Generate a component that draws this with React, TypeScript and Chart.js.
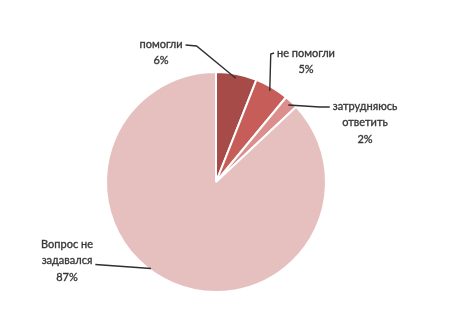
import { useEffect, useRef } from "react";
import { Chart, registerables } from "chart.js";

Chart.register(...registerables);

const categories = ["помогли", "не помогли", "затрудняюсь ответить", "Вопрос не задавался"];
const labelTextLines = [["помогли"], ["не помогли"], ["затрудняюсь", "ответить"], ["Вопрос не", "задавался"]];
const values = [6, 5, 2, 87];
const colors = ["#A64B48", "#C75D58", "#DB8E8B", "#E6C0BF"];

// label placement (pixels relative to pie centre) and leader style
const LABEL_LAYOUT = [
  { dx: -55, dy: -138, kind: "rightElbow" },
  { dx: 90, dy: -129, kind: "leftVertical" },
  { dx: 149, dy: -76, kind: "leftElbow" },
  { dx: -149, dy: 62, kind: "rightHorizontal" },
];

const FONT = '11px Lato, "DejaVu Sans", sans-serif';
const LINE_H = 16.5;

const labelPlugin = {
  id: "outerLabels",
  afterDraw(chart: any) {
    const ctx = chart.ctx;
    const meta = chart.getDatasetMeta(0);
    ctx.save();
    ctx.font = FONT;
    ctx.textAlign = "center";
    ctx.textBaseline = "middle";
    meta.data.forEach((arc: any, i: number) => {
      const p = arc.getProps(["x", "y", "startAngle", "endAngle", "outerRadius"], true);
      const mid = (p.startAngle + p.endAngle) / 2;
      const ax = p.x + Math.cos(mid) * p.outerRadius * 0.96;
      const ay = p.y + Math.sin(mid) * p.outerRadius * 0.96;
      const lay = LABEL_LAYOUT[i];
      const lines = [...labelTextLines[i], values[i] + "%"];
      const cx = p.x + lay.dx;
      const cy = p.y + lay.dy;
      ctx.fillStyle = "#383838";
      ctx.strokeStyle = "#383838";
      ctx.lineWidth = 0.35;
      lines.forEach((t, k) => {
        ctx.fillText(t, cx, cy + k * LINE_H);
        ctx.strokeText(t, cx, cy + k * LINE_H);
      });
      const w0 = ctx.measureText(lines[0]).width;
      const pts: number[][] = [];
      if (lay.kind === "rightElbow") {
        const r = cx + w0 / 2 + 3;
        pts.push([r, cy + 1], [r + 11, cy + 2], [ax, ay]);
      } else if (lay.kind === "leftVertical") {
        const l = cx - w0 / 2 - 3;
        pts.push([l, cy], [ax + 1, cy + 1], [ax, ay]);
      } else if (lay.kind === "leftElbow") {
        const l = cx - w0 / 2 - 3;
        pts.push([l, cy + 1], [l - 10, cy + 1], [ax, ay]);
      } else {
        const w1 = ctx.measureText(lines[1]).width;
        const r = cx + w1 / 2 + 3;
        const ly = cy + LINE_H + 4;
        const ey = ly + 4;
        const ddy = ey - p.y;
        const ex = p.x - Math.sqrt(Math.max(p.outerRadius * p.outerRadius - ddy * ddy, 0)) + 3;
        pts.push([r, ly], [ex, ey]);
      }
      ctx.strokeStyle = "#2f2f2f";
      ctx.lineWidth = 1.4;
      ctx.beginPath();
      pts.forEach((q, k) => (k === 0 ? ctx.moveTo(q[0], q[1]) : ctx.lineTo(q[0], q[1])));
      ctx.stroke();
    });
    ctx.restore();
  },
};

export default function App() {
  const ref = useRef<HTMLCanvasElement>(null);
  useEffect(() => {
    document.body.style.margin = "0";
    const chart = new Chart(ref.current!, {
      type: "pie",
      data: {
        labels: categories,
        datasets: [
          {
            data: values,
            backgroundColor: colors,
            borderColor: "#ffffff",
            borderWidth: 2,
          },
        ],
      },
      options: {
        animation: false,
        responsive: false,
        maintainAspectRatio: false,
        layout: { padding: { top: 71, bottom: 23, left: 105, right: 126 } },
        plugins: { legend: { display: false }, tooltip: { enabled: false } },
      },
      plugins: [labelPlugin],
    });
    return () => chart.destroy();
  }, []);
  return (
    <div style={{ width: 453, height: 316, background: "#fff" }}>
      <canvas ref={ref} width={453} height={316} style={{ display: "block" }} />
    </div>
  );
}
